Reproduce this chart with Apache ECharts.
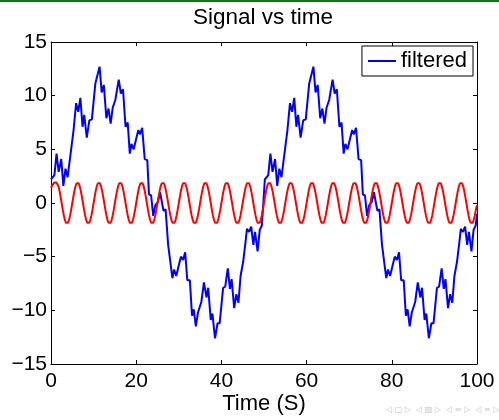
<!DOCTYPE html>
<html>
<head>
<meta charset="utf-8">
<script src="https://cdn.jsdelivr.net/npm/echarts@6/dist/echarts.min.js"></script>
<style>
html,body{margin:0;padding:0;background:#fff;}
#chart{width:499px;height:420px;}
</style>
</head>
<body>
<div id="chart"></div>
<script>
// ---- data ----
var xTicks = [0, 20, 40, 60, 80, 100];
var yTicks = [-15, -10, -5, 0, 5, 10, 15];

// blue "filtered" trace: time values and signal values
var blueT = [0,0.8,1.3,1.8,2.4,2.9,3.4,3.9,4.7,5.3,5.9,6.4,6.9,7.4,7.8,8.4,9.0,9.6,10.4,10.8,11.4,11.9,12.4,13.0,13.5,14.0,14.5,15.1,15.9,16.4,16.9,17.5,18.0,18.5,18.9,19.4,20.5,20.9,21.4,22.0,22.6,23.0,23.5,24.0,24.5,25.1,25.6,25.9,26.4,26.9,27.5,27.9,28.5,28.9,29.4,30.0,30.5,31.0,31.5,32.0,32.6,33.1,33.5,34.0,34.5,35.3,35.9,36.5,36.9,37.5,37.9,38.5,39.1,39.6,40.4,40.9,41.5,42.0,42.4,43.0,43.5,44.0,44.5,45.1,45.7,46.0,46.5,47.0,47.5,47.9,48.5,49.0,49.5,
50.2,51.0,51.5,52.0,52.6,53.1,53.6,54.1,54.9,55.5,56.1,56.6,57.1,57.6,58.0,58.6,59.2,59.8,60.6,61.0,61.6,62.1,62.6,63.2,63.7,64.2,64.7,65.3,66.1,66.6,67.1,67.7,68.2,68.7,69.1,69.6,70.7,71.1,71.6,72.2,72.8,73.2,73.7,74.2,74.7,75.3,75.8,76.1,76.6,77.1,77.7,78.1,78.7,79.1,79.6,80.2,80.7,81.2,81.7,82.2,82.8,83.3,83.7,84.2,84.7,85.5,86.1,86.7,87.1,87.7,88.1,88.7,89.3,89.8,90.6,91.1,91.7,92.2,92.6,93.2,93.7,94.2,94.7,95.3,95.9,96.2,96.7,97.2,97.7,98.1,98.7,99.2,99.7,100];
var blueV = [2.2,2.6,4.6,2.9,4.1,1.6,3.2,2.4,4.9,6.8,9.3,8.5,9.8,7.1,8.2,6.1,7.7,7.8,11.1,11.2,12.7,10.3,11.0,7.9,8.8,7.4,8.9,9.6,11.5,10.2,10.6,7.1,7.5,4.6,5.5,5.0,6.8,6.4,7.0,4.1,4.0,0.8,0.7,-1.2,-0.2,0.1,1.0,1.1,-0.7,-0.6,-3.9,-3.9,-7.0,-6.2,-6.8,-5.8,-5.0,-5.3,-4.6,-7.2,-7.2,-10.5,-9.9,-11.5,-10.2,-9.2,-7.4,-8.8,-7.9,-10.9,-10.3,-12.6,-11.2,-11.2,-7.9,-7.8,-6.1,-8.0,-7.1,-9.8,-8.5,-9.3,-6.8,-5.5,-3.5,-2.4,-2.7,-2.2,-3.9,-2.7,-4.5,-2.5,-2.1,
2.2,2.6,4.6,2.9,4.1,1.6,3.2,2.4,4.9,6.8,9.3,8.5,9.8,7.1,8.2,6.1,7.7,7.8,11.1,11.2,12.7,10.3,11.0,7.9,8.8,7.4,8.9,9.6,11.5,10.2,10.6,7.1,7.5,4.6,5.5,5.0,6.8,6.4,7.0,4.1,4.0,0.8,0.7,-1.2,-0.2,0.1,1.0,1.1,-0.7,-0.6,-3.9,-3.9,-7.0,-6.2,-6.8,-5.8,-5.0,-5.3,-4.6,-7.2,-7.2,-10.5,-9.9,-11.5,-10.2,-9.2,-7.4,-8.8,-7.9,-10.9,-10.3,-12.6,-11.2,-11.2,-7.9,-7.8,-6.1,-8.0,-7.1,-9.8,-8.5,-9.3,-6.8,-5.5,-3.5,-2.4,-2.7,-2.2,-3.9,-2.7,-4.5,-2.5,-2.1,-1.0];

// red trace: values every 0.25 s from 0 to 100 (one row = one 5 s period)
var redStep = 0.25;
var redV = [
1.4,1.62,1.79,1.9,1.93,1.9,1.84,1.56,1.13,0.6,0,-0.6,-1.13,-1.56,-1.84,-1.93,-1.84,-1.56,-1.13,-0.6,
0,0.6,1.13,1.56,1.84,1.93,1.84,1.56,1.13,0.6,0,-0.6,-1.13,-1.56,-1.84,-1.93,-1.84,-1.56,-1.13,-0.6,
0,0.6,1.13,1.56,1.84,1.93,1.84,1.56,1.13,0.6,0,-0.6,-1.13,-1.56,-1.84,-1.93,-1.84,-1.56,-1.13,-0.6,
0,0.6,1.13,1.56,1.84,1.93,1.84,1.56,1.13,0.6,0,-0.6,-1.13,-1.56,-1.84,-1.93,-1.84,-1.56,-1.13,-0.6,
0,0.6,1.13,1.56,1.84,1.93,1.84,1.56,1.13,0.6,0,-0.6,-1.13,-1.56,-1.84,-1.93,-1.84,-1.56,-1.13,-0.6,
0,0.6,1.13,1.56,1.84,1.93,1.84,1.56,1.13,0.6,0,-0.6,-1.13,-1.56,-1.84,-1.93,-1.84,-1.56,-1.13,-0.6,
0,0.6,1.13,1.56,1.84,1.93,1.84,1.56,1.13,0.6,0,-0.6,-1.13,-1.56,-1.84,-1.93,-1.84,-1.56,-1.13,-0.6,
0,0.6,1.13,1.56,1.84,1.93,1.84,1.56,1.13,0.6,0,-0.6,-1.13,-1.56,-1.84,-1.93,-1.84,-1.56,-1.13,-0.6,
0,0.6,1.13,1.56,1.84,1.93,1.84,1.56,1.13,0.6,0,-0.6,-1.13,-1.56,-1.84,-1.93,-1.84,-1.56,-1.13,-0.6,
0,0.6,1.13,1.56,1.84,1.93,1.84,1.56,1.13,0.6,0,-0.6,-1.13,-1.56,-1.84,-1.93,-1.84,-1.56,-1.13,-0.6,
0,0.6,1.13,1.56,1.84,1.93,1.84,1.56,1.13,0.6,0,-0.6,-1.13,-1.56,-1.84,-1.93,-1.84,-1.56,-1.13,-0.6,
0,0.6,1.13,1.56,1.84,1.93,1.84,1.56,1.13,0.6,0,-0.6,-1.13,-1.56,-1.84,-1.93,-1.84,-1.56,-1.13,-0.6,
0,0.6,1.13,1.56,1.84,1.93,1.84,1.56,1.13,0.6,0,-0.6,-1.13,-1.56,-1.84,-1.93,-1.84,-1.56,-1.13,-0.6,
0,0.6,1.13,1.56,1.84,1.93,1.84,1.56,1.13,0.6,0,-0.6,-1.13,-1.56,-1.84,-1.93,-1.84,-1.56,-1.13,-0.6,
0,0.6,1.13,1.56,1.84,1.93,1.84,1.56,1.13,0.6,0,-0.6,-1.13,-1.56,-1.84,-1.93,-1.84,-1.56,-1.13,-0.6,
0,0.6,1.13,1.56,1.84,1.93,1.84,1.56,1.13,0.6,0,-0.6,-1.13,-1.56,-1.84,-1.93,-1.84,-1.56,-1.13,-0.6,
0,0.6,1.13,1.56,1.84,1.93,1.84,1.56,1.13,0.6,0,-0.6,-1.13,-1.56,-1.84,-1.93,-1.84,-1.56,-1.13,-0.6,
0,0.6,1.13,1.56,1.84,1.93,1.84,1.56,1.13,0.6,0,-0.6,-1.13,-1.56,-1.84,-1.93,-1.84,-1.56,-1.13,-0.6,
0,0.6,1.13,1.56,1.84,1.93,1.84,1.56,1.13,0.6,0,-0.6,-1.13,-1.56,-1.84,-1.93,-1.84,-1.56,-1.13,-0.6,
0,0.6,1.13,1.56,1.84,1.93,1.84,1.56,1.13,0.6,0,-0.6,-1.13,-1.56,-1.84,-1.93,-1.84,-1.56,-1.13,-0.6,
-0.2];

var titleText = 'Signal vs time';
var xName = 'Time (S)';
var legendName = 'filtered';

// ---- build chart ----
var FONT = 'Liberation Sans, Arial, Helvetica, sans-serif';
var blueData = blueT.map(function (t, i) { return [t, blueV[i]]; });
var redData = redV.map(function (v, i) { return [i * redStep, v]; });

function fmt(v) { return String(v).replace('-', '\u2212'); }

var chart = echarts.init(document.getElementById('chart'), null, { renderer: 'canvas' });

var axisCommon = {
  type: 'value',
  axisLine: { show: true, onZero: false, lineStyle: { color: '#000', width: 1 } },
  axisTick: { show: true, inside: true, length: 4, lineStyle: { color: '#000', width: 1 } },
  splitLine: { show: false }
};

chart.setOption({
  animation: false,
  backgroundColor: '#fff',
  title: {
    text: titleText,
    left: 258,
    top: 1,
    textAlign: 'center',
    textStyle: { fontSize: 22.5, fontWeight: 'normal', color: '#000', fontFamily: FONT }
  },
  grid: { left: 51, right: 22, top: 42, bottom: 56, containLabel: false, outerBoundsMode: 'none' },
  legend: {
    data: [legendName],
    right: 26,
    top: 46,
    icon: 'rect',
    itemWidth: 28,
    itemHeight: 2,
    padding: [4, 6, 4, 6],
    borderColor: '#000',
    borderWidth: 1,
    backgroundColor: '#fff',
    textStyle: { fontSize: 22, color: '#000', fontFamily: FONT }
  },
  xAxis: [
    Object.assign({}, axisCommon, {
      min: xTicks[0], max: xTicks[xTicks.length - 1], interval: 20,
      position: 'bottom',
      axisLabel: { color: '#000', fontSize: 21, fontFamily: FONT, margin: 7,
        formatter: function (v) { return xTicks.indexOf(v) >= 0 ? fmt(v) : ''; } },
      name: xName,
      nameLocation: 'middle',
      nameGap: 29,
      nameMoveOverlap: false,
      nameTextStyle: { fontSize: 22, color: '#000', fontFamily: FONT, verticalAlign: 'top' }
    }),
    Object.assign({}, axisCommon, {
      min: xTicks[0], max: xTicks[xTicks.length - 1], interval: 20,
      position: 'top',
      axisLabel: { show: false }
    })
  ],
  yAxis: [
    Object.assign({}, axisCommon, {
      min: yTicks[0], max: yTicks[yTicks.length - 1], interval: 5,
      position: 'left',
      axisLabel: { color: '#000', fontSize: 21, fontFamily: FONT, margin: 4,
        formatter: function (v) { return fmt(v); } }
    }),
    Object.assign({}, axisCommon, {
      min: yTicks[0], max: yTicks[yTicks.length - 1], interval: 5,
      position: 'right',
      axisLabel: { show: false }
    })
  ],
  graphic: [
    { type: 'rect', shape: { x: 0, y: 0, width: 499, height: 2 }, style: { fill: '#1b6e1b' }, silent: true },
    { type: 'text', x: 386, y: 406, silent: true,
      style: { text: '\u25C1 \u25A1 \u25B7  \u25C1 \u25A7 \u25B7  \u25C1 \u2261 \u25B7  \u25C1 \u2261 \u25B7', font: '8px DejaVu Sans', fill: '#c4c4dc' } }
  ],
  series: [
    {
      name: legendName,
      type: 'line',
      data: blueData,
      showSymbol: false,
      symbol: 'none',
      lineStyle: { color: '#0000ff', width: 2 },
      itemStyle: { color: '#0000ff' },
      z: 2
    },
    {
      name: 'reference',
      type: 'line',
      data: redData,
      showSymbol: false,
      symbol: 'none',
      lineStyle: { color: '#ff0000', width: 2 },
      itemStyle: { color: '#ff0000' },
      z: 3
    }
  ]
});
</script>
</body>
</html>
